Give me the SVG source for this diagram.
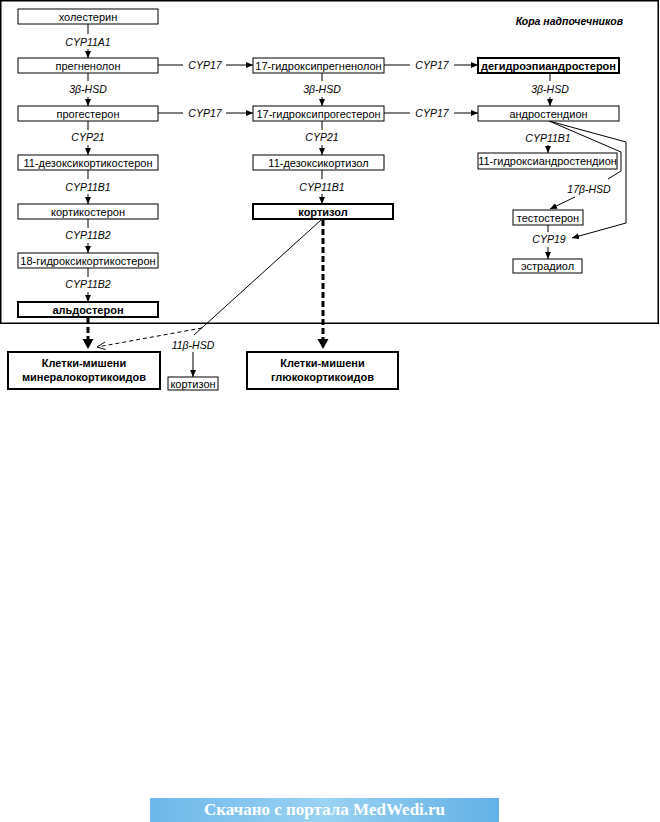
<svg xmlns="http://www.w3.org/2000/svg" width="660" height="822" viewBox="0 0 660 822">
<style>
.b{fill:#fff;stroke:#000;stroke-width:1}
.bb{fill:#fff;stroke:#000;stroke-width:2}
.t{font-family:"Liberation Sans",Arial,sans-serif;font-size:11px;text-anchor:middle;fill:#000}
.tb{font-family:"Liberation Sans",Arial,sans-serif;font-size:11px;font-weight:bold;text-anchor:middle;fill:#000}
.e{font-family:"Liberation Sans",Arial,sans-serif;font-size:10.5px;font-style:italic;text-anchor:middle;fill:#000}
.g{font-family:"Liberation Sans",Arial,sans-serif;font-size:11px;font-weight:bold;text-anchor:middle;fill:#000}
.l{fill:none;stroke:#000;stroke-width:1}
.a{fill:none;stroke:#000;stroke-width:1;marker-end:url(#ar)}
.th{fill:none;stroke:#000;stroke-width:3;stroke-dasharray:6 3}
</style>
<defs>
<marker id="ar" markerUnits="userSpaceOnUse" markerWidth="7" markerHeight="6" refX="7" refY="3" orient="auto">
<path d="M0,0 L7,3 L0,6 z" fill="#000"/>
</marker>
<linearGradient id="wm" x1="0" y1="0" x2="1" y2="0">
<stop offset="0" stop-color="#6db8ea"/>
<stop offset="0.5" stop-color="#9ad2f2"/>
<stop offset="1" stop-color="#62b1e6"/>
</linearGradient>
</defs>

<rect x="0.75" y="0.75" width="657.5" height="322.5" fill="none" stroke="#000" stroke-width="1.5"/>
<text x="623" y="25" font-family="Liberation Sans, Arial, sans-serif" font-size="10.5" font-weight="bold" font-style="italic" text-anchor="end">Кора надпочечников</text>

<g id="connectors">
<line class="l" x1="88" y1="24" x2="88" y2="34"/><text class="e" x="88" y="46">CYP11A1</text><line class="a" x1="88" y1="49" x2="88" y2="58"/>
<line class="l" x1="88" y1="73" x2="88" y2="81"/><text class="e" x="88" y="93">3β-HSD</text><line class="a" x1="88" y1="97" x2="88" y2="106"/>
<line class="l" x1="88" y1="121" x2="88" y2="130"/><text class="e" x="88" y="141">CYP21</text><line class="a" x1="88" y1="145" x2="88" y2="155"/>
<line class="l" x1="88" y1="170" x2="88" y2="179"/><text class="e" x="88" y="191">CYP11B1</text><line class="a" x1="88" y1="194" x2="88" y2="204"/>
<line class="l" x1="88" y1="219" x2="88" y2="228"/><text class="e" x="88" y="239">CYP11B2</text><line class="a" x1="88" y1="243" x2="88" y2="253"/>
<line class="l" x1="88" y1="268" x2="88" y2="277"/><text class="e" x="88" y="288">CYP11B2</text><line class="a" x1="88" y1="292" x2="88" y2="302"/>
<line class="l" x1="158" y1="65" x2="183" y2="65"/><text class="e" x="205" y="69">CYP17</text><line class="a" x1="226" y1="65" x2="253" y2="65"/>
<line class="l" x1="158" y1="113" x2="183" y2="113"/><text class="e" x="205" y="117">CYP17</text><line class="a" x1="226" y1="113" x2="253" y2="113"/>
<line class="l" x1="384" y1="65" x2="410" y2="65"/><text class="e" x="432" y="69">CYP17</text><line class="a" x1="454" y1="65" x2="478" y2="65"/>
<line class="l" x1="384" y1="113" x2="410" y2="113"/><text class="e" x="432" y="117">CYP17</text><line class="a" x1="454" y1="113" x2="478" y2="113"/>
<line class="l" x1="322" y1="73" x2="322" y2="81"/><text class="e" x="322" y="93">3β-HSD</text><line class="a" x1="322" y1="97" x2="322" y2="106"/>
<line class="l" x1="322" y1="121" x2="322" y2="130"/><text class="e" x="322" y="141">CYP21</text><line class="a" x1="322" y1="145" x2="322" y2="155"/>
<line class="l" x1="322" y1="170" x2="322" y2="179"/><text class="e" x="322" y="191">CYP11B1</text><line class="a" x1="322" y1="194" x2="322" y2="204"/>
<line class="l" x1="550" y1="73" x2="550" y2="81"/><text class="e" x="550" y="93">3β-HSD</text><line class="a" x1="550" y1="97" x2="550" y2="106"/>
<text class="e" x="548" y="142">CYP11B1</text><line class="a" x1="548" y1="145" x2="548" y2="153"/>
<polyline class="l" points="549,121 621,152 621,171 608,179"/>
<polyline class="a" points="549,121 626,142 626,223 572,238"/>
<text class="e" x="589" y="193">17β-HSD</text>
<line class="a" x1="575" y1="197" x2="550" y2="209"/>
<line class="l" x1="548" y1="225" x2="548" y2="232"/><text class="e" x="549" y="243">CYP19</text><line class="a" x1="548" y1="247" x2="548" y2="259"/>
<line class="th" x1="88" y1="318" x2="88" y2="340"/>
<path d="M82.5,339 L93.5,339 L88,349 z" fill="#000"/>
<line class="th" x1="323" y1="220" x2="323" y2="340"/>
<path d="M317.5,339 L328.5,339 L323,349 z" fill="#000"/>
<line class="l" x1="321" y1="220" x2="194" y2="335"/>
<line class="l" x1="202" y1="328" x2="100" y2="346.5" stroke-dasharray="4 3"/>
<path d="M97,347 L105,342 M97,347 L105.5,349.5" stroke="#000" stroke-width="1" fill="none"/>
<text class="e" x="193" y="349">11β-HSD</text>
<line class="a" x1="193" y1="352" x2="193" y2="377"/>
</g>

<g id="n-cholesterol"><rect class="b" x="18" y="9" width="140" height="15"/><text class="t" x="88" y="20.5">холестерин</text></g>
<g id="n-pregnenolone"><rect class="b" x="18" y="58" width="140" height="15"/><text class="t" x="88" y="69.5">прегненолон</text></g>
<g id="n-progesterone"><rect class="b" x="18" y="106" width="140" height="15"/><text class="t" x="88" y="117.5">прогестерон</text></g>
<g id="n-doc"><rect class="b" x="18" y="155" width="140" height="15"/><text class="t" x="88" y="166.5">11-дезоксикортикостерон</text></g>
<g id="n-corticosterone"><rect class="b" x="18" y="204" width="140" height="15"/><text class="t" x="88" y="215.5">кортикостерон</text></g>
<g id="n-18oh"><rect class="b" x="18" y="253" width="140" height="15"/><text class="t" x="88" y="264.5">18-гидроксикортикостерон</text></g>
<g id="n-aldosterone"><rect class="bb" x="18" y="302" width="140" height="15"/><text class="tb" x="88" y="313.5">альдостерон</text></g>

<g id="n-17ohpreg"><rect class="b" x="253" y="58" width="131" height="15"/><text class="t" x="318.5" y="69.5">17-гидроксипрегненолон</text></g>
<g id="n-17ohprog"><rect class="b" x="253" y="106" width="131" height="15"/><text class="t" x="318.5" y="117.5">17-гидроксипрогестерон</text></g>
<g id="n-11deoxycortisol"><rect class="b" x="253" y="155" width="131" height="15"/><text class="t" x="318.5" y="166.5">11-дезоксикортизол</text></g>
<g id="n-cortisol"><rect class="bb" x="253" y="204" width="140" height="15"/><text class="tb" x="323" y="215.5">кортизол</text></g>

<g id="n-dhea"><rect class="bb" x="478" y="58" width="141" height="15"/><text class="tb" x="548.5" y="69.5" font-size="10.5">дегидроэпиандростерон</text></g>
<g id="n-androstenedione"><rect class="b" x="478" y="106" width="141" height="15"/><text class="t" x="548.5" y="117.5">андростендион</text></g>
<g id="n-11ohandro"><rect class="b" x="478" y="153" width="139" height="16"/><text class="t" x="547.5" y="165">11-гидроксиандростендион</text></g>
<g id="n-testosterone"><rect class="b" x="513" y="210" width="70" height="15"/><text class="t" x="548" y="221.5">тестостерон</text></g>
<g id="n-estradiol"><rect class="b" x="513" y="259" width="69" height="14"/><text class="t" x="547.5" y="270">эстрадиол</text></g>

<g id="n-mineral"><rect class="bb" x="8" y="352" width="152" height="37"/><text class="g" x="84" y="367">Клетки-мишени</text><text class="g" x="84" y="381">минералокортикоидов</text></g>
<g id="n-gluco"><rect class="bb" x="247" y="352" width="151" height="37"/><text class="g" x="322.5" y="367">Клетки-мишени</text><text class="g" x="322.5" y="381">глюкокортикоидов</text></g>
<g id="n-cortisone"><rect class="b" x="168" y="377" width="50" height="13"/><text class="t" x="193" y="387.5" font-size="10.5">кортизон</text></g>

<g id="watermark">
<rect x="150" y="798" width="349" height="24" fill="url(#wm)"/>
<text x="324.5" y="815" font-family="Liberation Serif, Times New Roman, serif" font-size="17" font-weight="bold" fill="#fff" text-anchor="middle">Скачано с портала MedWedi.ru</text>
</g>
</svg>
